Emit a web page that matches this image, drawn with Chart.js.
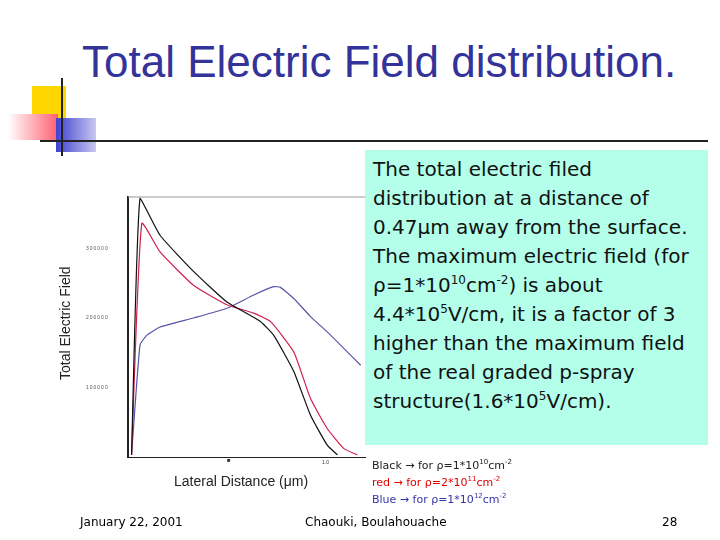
<!DOCTYPE html><html><head><meta charset="utf-8">
<script src="https://cdn.jsdelivr.net/npm/chart.js@4"></script>
<style>
body{margin:0;width:720px;height:540px;background:#fff;position:relative;overflow:hidden;font-family:"Liberation Sans",Arial,sans-serif}
.a{position:absolute}
</style></head><body>
<div class="a" style="left:32px;top:86px;width:34px;height:34px;background:#ffd700"></div>
<div class="a" style="left:8px;top:114px;width:50px;height:26px;background:linear-gradient(90deg,#fff,#ff6070)"></div>
<div class="a" style="left:56px;top:118px;width:40px;height:34px;background:linear-gradient(90deg,#4040d0,#c8c8f0)"></div>
<div class="a" style="left:61px;top:78px;width:2px;height:78px;background:#222"></div>
<div class="a" style="left:40px;top:140px;width:668px;height:2px;background:#222"></div>
<div class="a" style="left:82px;top:37px;font-size:44px;color:#333399;white-space:nowrap">Total Electric Field distribution.</div>
<canvas id="c" class="a" style="left:0;top:0" width="720" height="540"></canvas>
<div class="a" style="left:57px;top:380px;transform:rotate(-90deg);transform-origin:0 0;font-size:14px;color:#222;white-space:nowrap">Total Electric Field</div>
<div class="a" style="left:86px;top:245px;font-size:5px;color:#555;letter-spacing:1px">300000</div>
<div class="a" style="left:86px;top:314px;font-size:5px;color:#555;letter-spacing:1px">200000</div>
<div class="a" style="left:86px;top:384px;font-size:5px;color:#555;letter-spacing:1px">100000</div>
<div class="a" style="left:227px;top:457px;font-size:6px;color:#333">■</div>
<div class="a" style="left:322px;top:459px;font-size:5px;color:#333">1.0</div>
<div class="a" style="left:174px;top:473px;font-size:14px;color:#222;white-space:nowrap">Lateral Distance (μm)</div>
<div class="a" style="left:365px;top:150px;width:343px;height:295px;background:#b3ffe9;font-family:'DejaVu Sans';font-size:20px;line-height:29px;padding:5px 4px 0 8px;box-sizing:border-box;color:#111">The total electric filed distribution at a distance of 0.47μm away from the surface. The maximum electric field (for ρ=1*10<sup style="font-size:12px;line-height:0">10</sup>cm<sup style="font-size:12px;line-height:0">-2</sup>) is about 4.4*10<sup style="font-size:12px;line-height:0">5</sup>V/cm, it is a factor of 3 higher than the maximum field of the real graded p-spray structure(1.6*10<sup style="font-size:12px;line-height:0">5</sup>V/cm).</div>
<div class="a" style="left:372px;top:457px;font-family:'DejaVu Sans';font-size:11px;line-height:17px">
<div style="color:#222">Black → for ρ=1*10<sup style="font-size:7px;line-height:0">10</sup>cm<sup style="font-size:7px;line-height:0">-2</sup></div>
<div style="color:#e00000">red → for ρ=2*10<sup style="font-size:7px;line-height:0">11</sup>cm<sup style="font-size:7px;line-height:0">-2</sup></div>
<div style="color:#3333aa">Blue → for ρ=1*10<sup style="font-size:7px;line-height:0">12</sup>cm<sup style="font-size:7px;line-height:0">-2</sup></div></div>
<div class="a" style="left:80px;top:515px;font-family:'DejaVu Sans';font-size:12px">January 22, 2001</div>
<div class="a" style="left:305px;top:515px;font-family:'DejaVu Sans';font-size:12px">Chaouki, Boulahouache</div>
<div class="a" style="left:662px;top:515px;font-family:'DejaVu Sans';font-size:12px">28</div>
<script>
const blackX=[0.003,0.046,0.148,0.318,0.488,0.658,0.726,0.828,0.913,0.998,1.05];
const blackY=[3000,372000,319000,267000,223000,195000,175000,123000,60000,17000,3000];
const redX=[0.003,0.055,0.148,0.318,0.488,0.624,0.709,0.828,0.913,0.998,1.083,1.151];
const redY=[3000,336000,295000,247000,219000,207000,195000,151000,84000,41000,12000,3000];
const blueX=[0.003,0.046,0.08,0.148,0.318,0.488,0.624,0.726,0.76,0.828,0.913,0.998,1.083,1.168];
const blueY=[3000,161000,175000,187000,200000,214000,233000,245000,244000,228000,202000,180000,156000,132000];
const pts=(xs,ys)=>xs.map((x,i)=>({x:x,y:ys[i]}));
const ds=(xs,ys,c)=>({data:pts(xs,ys),borderColor:c,borderWidth:1.2,pointRadius:0,tension:0.15,fill:false,clip:true});
new Chart(document.getElementById('c'),{type:'scatter',
data:{datasets:[ds(blackX,blackY,'#111'),ds(redX,redY,'#d0204a'),ds(blueX,blueY,'#5555aa')]},
options:{responsive:false,animation:false,showLine:true,
layout:{padding:{left:128,right:355,top:197,bottom:83}},
plugins:{legend:{display:false},tooltip:{enabled:false}},
scales:{x:{type:'linear',min:-0.015,max:1.19,ticks:{display:false},grid:{display:false,drawTicks:false},border:{color:'#222',width:1}},
y:{min:0,max:374000,ticks:{display:false},grid:{display:false,drawTicks:false},border:{color:'#222',width:2}}}},
plugins:[{id:'frame',afterDraw(c){const a=c.chartArea,g=c.ctx;g.save();g.strokeStyle='#999';g.lineWidth=1;g.beginPath();g.moveTo(a.left,a.top);g.lineTo(a.right,a.top);g.stroke();g.restore();}}]
});
</script></body></html>
